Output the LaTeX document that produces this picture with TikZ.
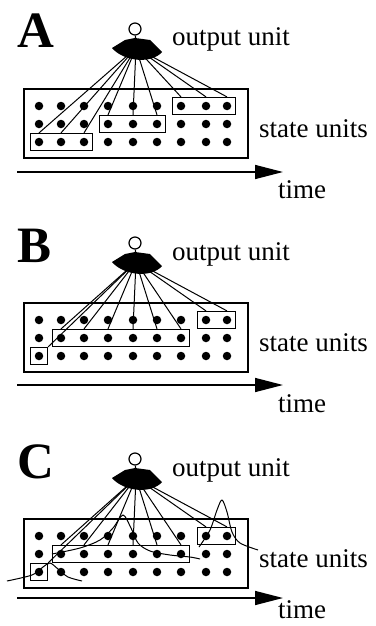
\documentclass[tikz,border=0pt]{standalone}
\usepackage{fontspec}
\setmainfont{Liberation Serif}
\usetikzlibrary{arrows.meta,positioning,fit}

\begin{document}
\begin{tikzpicture}[
  x=1pt, y=-1pt,
  dotnode/.style={circle, fill=black, inner sep=0pt, minimum size=8.5pt},
  groupbox/.style={draw, line width=1.3pt, inner sep=4pt},
  outnode/.style={circle, draw, line width=1.2pt, fill=white, inner sep=0pt, minimum size=12pt},
  link/.style={line width=1pt},
  timearrow/.style={-{Triangle[length=28pt, width=14pt]}, line width=1.5pt},
  tag/.style={font=\fontsize{27}{27}\selectfont, anchor=base west, inner sep=0pt},
  panelletter/.style={font=\fontsize{51}{51}\selectfont\bfseries, anchor=base west, inner sep=0pt},
]
\useasboundingbox (0,0) rectangle (375,626);

% Common parts of the three panels
\foreach \p/\off/\ay/\ty in {A/0/172/198, B/214/171/198, C/430/168/188} {
  \begin{scope}[shift={(0,\off)}]
    \node[panelletter] (\p-letter) at (17,48) {\p};
    \node[outnode] (\p-out) at (135,29) {};
    \coordinate (\p-hub) at (136,48);
    \node[tag] (\p-outlabel) at (172,46) {output unit};
    \draw[line width=1.3pt] (24,89) rectangle (248,158);
    \foreach \ry [count=\r] in {106,124,142}
      \foreach \cx [count=\c] in {39,61,84,108,133,157,181,206,227}
        \node[dotnode] (\p-\r-\c) at (\cx,\ry) {};
    \node[tag] (\p-statelabel) at (259,137) {state units};
    \coordinate (\p-t0) at (17,\ay);
    \coordinate (\p-t1) at (283,\ay);
    \draw[timearrow] (\p-t0) -- (\p-t1);
    \node[tag] (\p-timelabel) at (278,\ty) {time};
  \end{scope}
}

% Panel A: three groups of three
\node[groupbox, fit=(A-3-1)(A-3-3)] (A-g1) {};
\node[groupbox, fit=(A-2-4)(A-2-6)] (A-g2) {};
\node[groupbox, fit=(A-1-7)(A-1-9)] (A-g3) {};
\foreach \c in {1,2,3} \draw[link] (A-hub) -- (A-g1.north -| A-3-\c);
\foreach \c in {4,5,6} \draw[link] (A-hub) -- (A-g2.north -| A-2-\c);
\foreach \c in {7,8,9} \draw[link] (A-hub) -- (A-g3.north -| A-1-\c);

% Panels B and C: groups of one, six and two
\foreach \p in {B,C} {
  \node[groupbox, fit=(\p-3-1)] (\p-g1) {};
  \node[groupbox, fit=(\p-2-2)(\p-2-7)] (\p-g2) {};
  \node[groupbox, fit=(\p-1-8)(\p-1-9)] (\p-g3) {};
  \draw[link] (\p-hub) -- (\p-g1.north east);
  \foreach \c in {2,...,7} \draw[link] (\p-hub) -- (\p-g2.north -| \p-2-\c);
  \foreach \c in {8,9} \draw[link] (\p-hub) -- (\p-g3.north -| \p-1-\c);
}

% Output units over the links
\foreach \p in {A,B,C} {
  \draw[line width=1.2pt] (\p-out) -- (\p-hub);
  \begin{scope}[shift={(\p-hub)}]
    \fill (-24,0) -- (-11,-8) -- (-1,-10) -- (14,-8) -- (26,4)
      .. controls (16,16) and (-12,14) .. (-24,0) -- cycle;
  \end{scope}
}

% Panel C: receptive fields
\begin{scope}[shift={(0,430)}, line width=1pt]
  \draw plot[smooth] coordinates {(7,151) (32,145) (43,137) (50,133) (58,139) (68,147) (82,151)};
  \draw plot[smooth] coordinates {(52,124) (80,118) (100,110) (113,98) (123,85) (131,98) (138,113) (150,121) (170,125) (190,127) (200,129)};
  \draw plot[smooth] coordinates {(199,117) (210,100) (217,80) (222,70) (227,82) (232,102) (240,113) (258,120)};
\end{scope}

\end{tikzpicture}
\end{document}
